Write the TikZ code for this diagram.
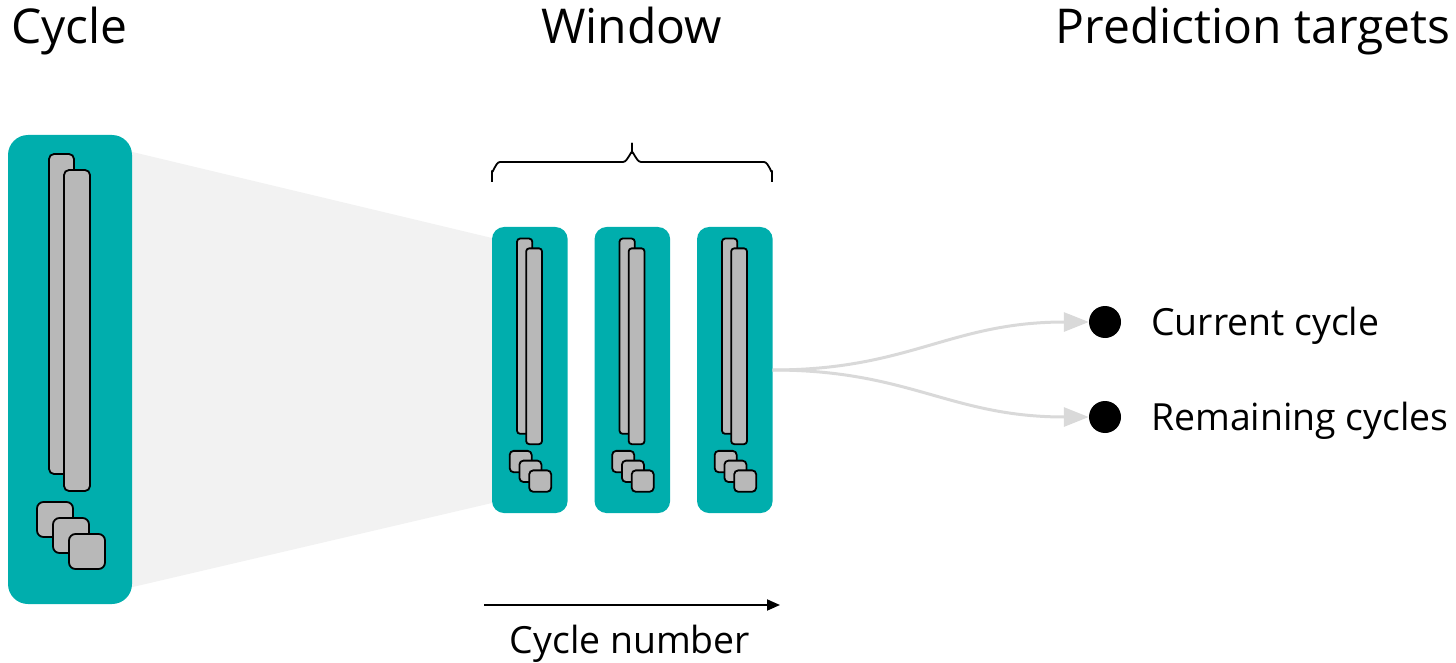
\documentclass[tikz,border=0pt]{standalone}
\usepackage{fontspec}
\setmainfont{Open Sans}
\usetikzlibrary{arrows.meta}

\definecolor{cyclefill}{RGB}{0,174,173}
\definecolor{barfill}{RGB}{184,184,184}
\definecolor{funnelfill}{RGB}{242,242,242}
\definecolor{flowgrey}{RGB}{217,217,217}

\tikzset{
  outlined/.style={draw=black, fill=barfill, line width=1.8pt},
  title/.style={inner sep=0pt, font=\fontsize{48}{56}\selectfont},
  label/.style={inner sep=0pt, font=\fontsize{37.4}{45}\selectfont},
  flow/.style={draw=flowgrey, line width=3pt,
    -{Triangle[length=25pt,width=19pt]}},
  target/.style={circle, fill=black, inner sep=0pt, minimum size=32pt},
}

% One cycle: teal card holding two long bars and three stacked squares.
% Arguments: left x, top y, scale.
\newcommand\cyclecard[3]{%
  \pgfmathsetmacro\cardrad{20*#3}%
  \pgfmathsetmacro\barrad{5*#3}%
  \pgfmathsetmacro\sqrad{6.5*#3}%
  \begin{scope}[shift={(#1,#2)}, scale=#3]
    \fill[cyclefill, rounded corners=\cardrad pt] (0,0) rectangle (124,469);
    \path[outlined, rounded corners=\barrad pt] (41,19) rectangle (66,339);
    \path[outlined, rounded corners=\barrad pt] (56,35) rectangle (82,356);
    \path[outlined, rounded corners=\sqrad pt] (29,367) rectangle (65,402);
    \path[outlined, rounded corners=\sqrad pt] (45,383) rectangle (81,418);
    \path[outlined, rounded corners=\sqrad pt] (61,399) rectangle (97,434);
  \end{scope}}

\begin{document}
\begin{tikzpicture}[x=1pt, y=-1pt]
  \useasboundingbox (0,0) rectangle (1456,663);

  % column titles
  \node[title, anchor=base] (tcycle) at (69.5,44) {Cycle};
  \node[title, anchor=base] (twindow) at (631.5,44) {Window};
  \node[title, anchor=base] (ttargets) at (1253,44) {Prediction targets};

  % funnel from the single cycle to the window
  \fill[funnelfill] (120,149) -- (492,238) -- (492,503) -- (120,590) -- cycle;

  % the single cycle and the three cycles of the window
  \cyclecard{8}{135}{1}
  \cyclecard{492}{227}{0.61}
  \cyclecard{594.5}{227}{0.61}
  \cyclecard{697}{227}{0.61}

  % brace over the window
  \draw[line width=1.8pt, line join=round]
    (492,182) -- (492,171) to[out=-90,in=180] (500,162) -- (623,162)
    to[out=0,in=90] (632,153) -- (632,143);
  \draw[line width=1.8pt, line join=round]
    (632,143) -- (632,153) to[out=90,in=180] (641,162) -- (764,162)
    to[out=0,in=-90] (772,171) -- (772,182);

  % cycle number axis
  \coordinate (axisstart) at (484,605);
  \coordinate (axisend) at (780,605);
  \draw[line width=1.8pt, -{Triangle[length=13pt,width=11pt]}] (axisstart) -- (axisend);
  \node[label, anchor=base] (taxis) at (630,653) {Cycle number};

  % prediction targets
  \coordinate (winout) at (772.6,370);
  \node[target] (dcur) at (1105,322) {};
  \node[target] (drem) at (1105,417) {};
  \node[label, anchor=base west] (lcur) at (1151,335) {Current cycle};
  \node[label, anchor=base west] (lrem) at (1151,430) {Remaining cycles};

  \draw[flow] (winout) .. controls (910,370) and (950,322) .. (dcur.west);
  \draw[flow] (winout) .. controls (910,370) and (950,417) .. (drem.west);
\end{tikzpicture}
\end{document}
